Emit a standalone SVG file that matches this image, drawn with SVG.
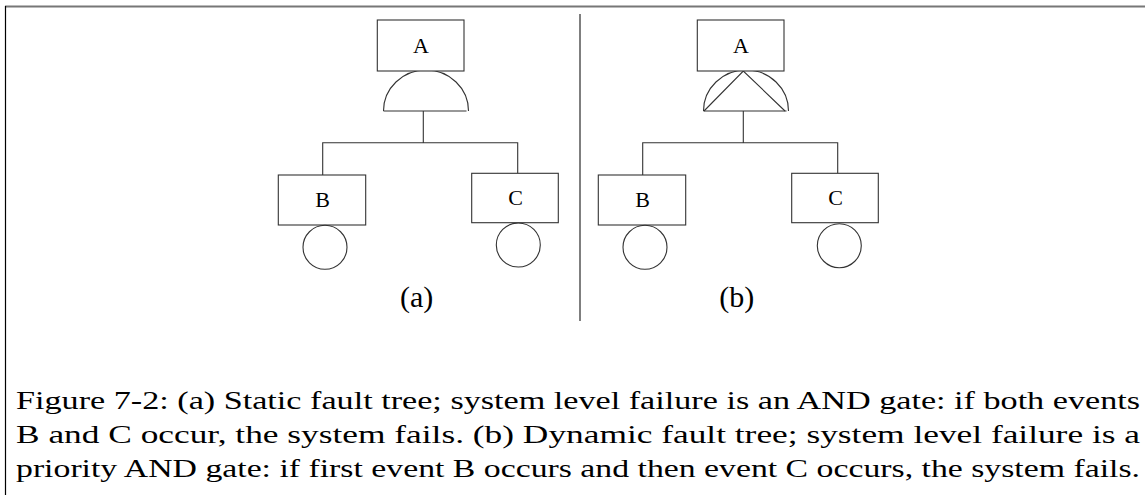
<svg xmlns="http://www.w3.org/2000/svg" width="1145" height="495" viewBox="0 0 1145 495">
<style>
.box{fill:#fff;stroke:#333;stroke-width:1.1}
.ln{fill:none;stroke:#333;stroke-width:1.1}
.lbl{font-family:"Liberation Serif",serif;font-size:22px;fill:#000;text-anchor:middle}
.sub{font-family:"Liberation Serif",serif;font-size:30px;fill:#000;text-anchor:middle}
.cap{font-family:"Liberation Serif",serif;font-size:25.5px;fill:#000}
</style>
<rect width="1145" height="495" fill="#fff"/>
<line x1="5" y1="6.5" x2="1145" y2="6.5" stroke="#777" stroke-width="2"/>
<line x1="5.5" y1="6" x2="5.5" y2="495" stroke="#000" stroke-width="1.2"/>
<line x1="580" y1="14" x2="580" y2="321" stroke="#555" stroke-width="1.5"/>

<g id="connectors">
  <path class="ln" d="M423.3 111 V142.7 M322.7 175 V142.7 H517.7 V173.3"/>
  <path class="ln" d="M743.3 111 V142.7 M642.7 175 V142.7 H837.7 V173.3"/>
</g>

<g id="gateA">
  <path class="ln" d="M383.5 111 A42.5 41 0 0 1 468.5 111"/>
  <line class="ln" x1="383.5" y1="111" x2="466.5" y2="111"/>
</g>
<g id="gateB">
  <path class="ln" d="M703.5 111 A42.5 41 0 0 1 788.5 111"/>
  <line class="ln" x1="703.5" y1="111" x2="786.5" y2="111"/>
  <path class="ln" d="M704 111 L743.3 71 L785 111"/>
</g>

<g id="nodeA1"><rect class="box" x="377.3" y="20" width="86.7" height="51"/><text class="lbl" x="421" y="53.3">A</text></g>
<g id="nodeB1"><rect class="box" x="278.3" y="175" width="87.4" height="50"/><text class="lbl" x="322.5" y="206.7">B</text></g>
<g id="nodeC1"><rect class="box" x="471.7" y="173.3" width="86.6" height="49.4"/><text class="lbl" x="515.5" y="205">C</text></g>
<g id="eventB1"><circle class="ln" cx="325" cy="247.3" r="22"/></g>
<g id="eventC1"><circle class="ln" cx="518.3" cy="245" r="22"/></g>

<g id="nodeA2"><rect class="box" x="697.3" y="20" width="86.7" height="51"/><text class="lbl" x="741" y="53.3">A</text></g>
<g id="nodeB2"><rect class="box" x="598.3" y="175" width="87.4" height="50"/><text class="lbl" x="642.5" y="206.7">B</text></g>
<g id="nodeC2"><rect class="box" x="791.7" y="173.3" width="86.6" height="49.4"/><text class="lbl" x="835.5" y="205">C</text></g>
<g id="eventB2"><circle class="ln" cx="645" cy="247.3" r="22"/></g>
<g id="eventC2"><circle class="ln" cx="839.3" cy="245.7" r="22"/></g>

<text class="sub" x="416.7" y="306.7">(a)</text>
<text class="sub" x="736.7" y="306.7">(b)</text>

<text class="cap" x="16" y="409.3" textLength="1124" lengthAdjust="spacingAndGlyphs">Figure 7-2: (a) Static fault tree; system level failure is an AND gate: if both events</text>
<text class="cap" x="16" y="443.3" textLength="1124" lengthAdjust="spacingAndGlyphs">B and C occur, the system fails.  (b) Dynamic fault tree; system level failure is a</text>
<text class="cap" x="16" y="476.7" textLength="1124" lengthAdjust="spacingAndGlyphs">priority AND gate: if first event B occurs and then event C occurs, the system fails.</text>
</svg>
